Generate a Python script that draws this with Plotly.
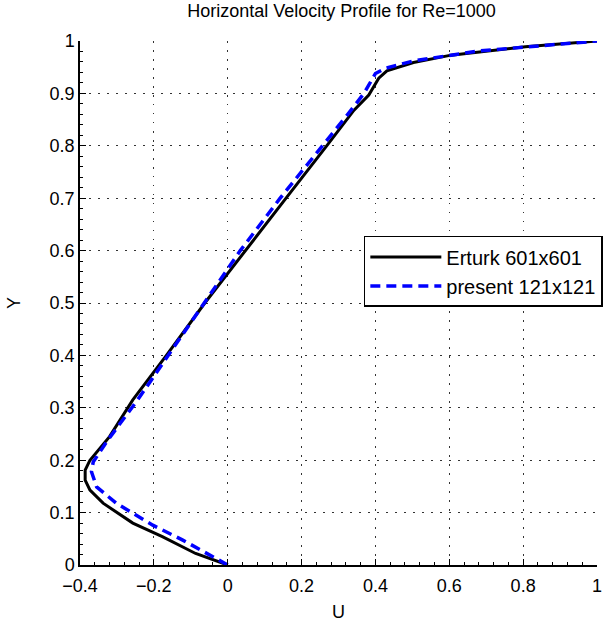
import plotly.graph_objects as go

# Erturk 601x601 (reference)
erturk_u = [0.0, -0.087, -0.177, -0.257, -0.3375, -0.373, -0.386, -0.386, -0.373, -0.320,
            -0.257, -0.166, -0.062, 0.049, 0.158, 0.268, 0.342, 0.382, 0.409, 0.431,
            0.503, 0.605, 0.806, 1.0]
erturk_y = [0.0, 0.022, 0.054, 0.080, 0.118, 0.143, 0.162, 0.181, 0.200, 0.245,
            0.315, 0.400, 0.500, 0.600, 0.700, 0.800, 0.868, 0.897, 0.929, 0.943,
            0.959, 0.973, 0.989, 1.0]

# present 121x121
present_u = [0.0, -0.123, -0.203, -0.302, -0.355, -0.369, -0.364, -0.324, -0.244,
             -0.161, -0.064, 0.034, 0.142, 0.258, 0.324, 0.369, 0.400, 0.427, 0.503,
             0.681, 1.0]
present_y = [0.0, 0.048, 0.076, 0.118, 0.149, 0.178, 0.197, 0.239, 0.315,
             0.400, 0.500, 0.600, 0.700, 0.800, 0.859, 0.900, 0.938, 0.948, 0.962,
             0.981, 1.0]

x_ticks = [-0.4, -0.2, 0, 0.2, 0.4, 0.6, 0.8, 1]
y_ticks = [0, 0.1, 0.2, 0.3, 0.4, 0.5, 0.6, 0.7, 0.8, 0.9, 1]

fig = go.Figure()
fig.add_trace(go.Scatter(x=erturk_u, y=erturk_y, mode="lines", name="Erturk 601x601",
                         line=dict(color="black", width=3)))
fig.add_trace(go.Scatter(x=present_u, y=present_y, mode="lines", name="present 121x121",
                         line=dict(color="#0000ff", width=3.5, dash="10px,6px")))

font_family = "Liberation Sans, Arial, sans-serif"
axis_common = dict(
    showline=True, linecolor="black", linewidth=1.5, mirror=False,
    ticks="inside", ticklen=6, tickcolor="black", tickwidth=1,
    showgrid=True, gridcolor="#333333", gridwidth=1, griddash="1.5px,7.5px",
    zeroline=False, ticklabeloverflow="allow",
    tickfont=dict(family=font_family, size=18, color="black"),
    minor=dict(ticks="inside", ticklen=3, tickcolor="black", showgrid=False),
)

fig.update_layout(
    width=606, height=629,
    margin=dict(l=80, r=3, t=41, b=64),
    paper_bgcolor="white", plot_bgcolor="white",
    title=dict(text="Horizontal Velocity Profile for Re=1000", x=0.5635, xanchor="center",
               y=0.993, yanchor="top",
               font=dict(family=font_family, size=18, color="black")),
    xaxis=dict(range=[-0.4, 1], tickvals=x_ticks, ticklabelstandoff=4, **axis_common,
               title=dict(text="U", font=dict(family=font_family, size=18, color="black"), standoff=10)),
    yaxis=dict(range=[0, 1], tickvals=y_ticks, **axis_common,
               title=dict(text="Y", font=dict(family=font_family, size=18, color="black"), standoff=24)),
    legend=dict(x=0.549, y=0.628, xanchor="left", yanchor="top",
                bgcolor="white", bordercolor="black", borderwidth=1.5,
                font=dict(family=font_family, size=20, color="black"),
                itemwidth=71, tracegroupgap=0),
    showlegend=True,
)
fig.update_xaxes(minor=dict(dtick=0.04))
fig.update_yaxes(minor=dict(dtick=0.02))

fig.write_html("out.html")
